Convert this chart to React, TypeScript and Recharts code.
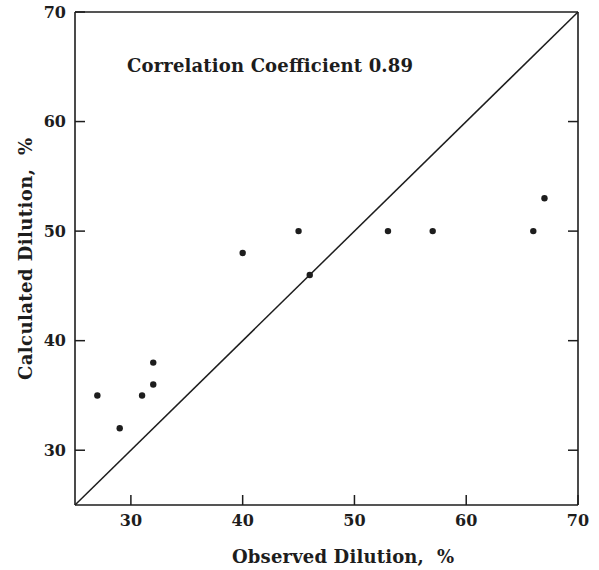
import { ScatterChart, Scatter, XAxis, YAxis, ReferenceLine, Label } from "recharts";

// observed vs calculated dilution, in percent
const observed = [27, 29, 31, 32, 32, 40, 45, 46, 53, 57, 66, 67];
const calculated = [35, 32, 35, 36, 38, 48, 50, 46, 50, 50, 50, 53];
const xTicks = [30, 40, 50, 60, 70];
const yTicks = [30, 40, 50, 60, 70];
const frameTicks = [30, 40, 50, 60];
const axisMin = 25;
const axisMax = 70;
const correlation = 0.89;

const points = observed.map((x, i) => ({ x, y: calculated[i] }));

const INK = "#1d1d1d";
const FONT = "'DejaVu Serif', serif";

const tickText = { fontFamily: FONT, fontSize: 16, fontWeight: 700, fill: INK };
const titleText = { fontFamily: FONT, fontSize: 18, fontWeight: 700, fill: INK };
const frame = { stroke: INK, strokeWidth: 1.6 };
const tickLine = { stroke: INK, strokeWidth: 1.5 };

function Dot({ cx, cy }: any) {
  return <circle cx={cx} cy={cy} r={3.2} fill={INK} />;
}

export default function App() {
  return (
    <div style={{ position: "absolute", left: 0, top: 0, width: 599, height: 570, background: "#fff" }}>
      <ScatterChart width={599} height={570} margin={{ top: 11, right: 20, left: 15, bottom: 0 }}>
        <XAxis
          type="number"
          dataKey="x"
          domain={[axisMin, axisMax]}
          ticks={xTicks}
          allowDataOverflow
          height={65}
          tickSize={-10}
          tickMargin={20}
          axisLine={frame}
          tickLine={tickLine}
          tick={tickText}
        >
          <Label
            content={({ viewBox }: any) => (
              <text
                x={232}
                y={viewBox.y + 58}
                textLength={222}
                lengthAdjust="spacing"
                {...titleText}
                xmlSpace="preserve"
              >
                {"Observed Dilution,  %"}
              </text>
            )}
          />
        </XAxis>
        {/* frame edges: inward ticks only, no labels */}
        <XAxis
          xAxisId="top"
          orientation="top"
          type="number"
          domain={[axisMin, axisMax]}
          ticks={frameTicks}
          allowDataOverflow
          height={1}
          tickSize={-10}
          tickFormatter={() => ""}
          axisLine={frame}
          tickLine={tickLine}
        />
        <YAxis
          type="number"
          dataKey="y"
          domain={[axisMin, axisMax]}
          ticks={yTicks}
          allowDataOverflow
          width={60}
          tickSize={-10}
          tickMargin={19}
          axisLine={frame}
          tickLine={tickLine}
          tick={tickText}
        >
          <Label
            content={({ viewBox }: any) => {
              const cx = viewBox.x + 17;
              const cy = 380;
              return (
                <text
                  x={cx}
                  y={cy}
                  textLength={242}
                  lengthAdjust="spacing"
                  transform={`rotate(-90 ${cx} ${cy})`}
                  {...titleText}
                  xmlSpace="preserve"
                >
                  {"Calculated Dilution,  %"}
                </text>
              );
            }}
          />
        </YAxis>
        <YAxis
          yAxisId="right"
          orientation="right"
          type="number"
          domain={[axisMin, axisMax]}
          ticks={frameTicks}
          allowDataOverflow
          width={1}
          tickSize={-10}
          tickFormatter={() => ""}
          axisLine={frame}
          tickLine={tickLine}
        />
        {/* 1:1 line */}
        <ReferenceLine
          segment={[
            { x: axisMin, y: axisMin },
            { x: axisMax, y: axisMax },
          ]}
          stroke={INK}
          strokeWidth={1.5}
          ifOverflow="visible"
        />
        <Scatter data={points} shape={<Dot />} isAnimationActive={false} />
      </ScatterChart>
      <svg
        width={599}
        height={100}
        style={{ position: "absolute", left: 0, top: 0, pointerEvents: "none" }}
      >
        <text x={127} y={72} textLength={286} lengthAdjust="spacing" {...titleText} xmlSpace="preserve">
          {`Correlation Coefficient ${correlation.toFixed(2)}`}
        </text>
      </svg>
    </div>
  );
}
